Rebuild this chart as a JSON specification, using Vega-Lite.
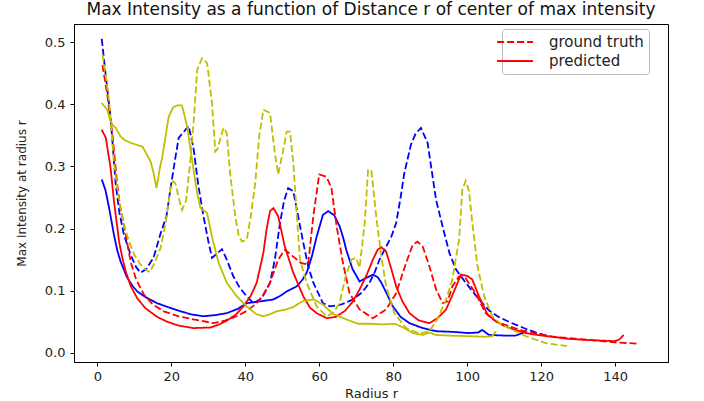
{
  "$schema": "https://vega.github.io/schema/vega-lite/v6.json",
  "width": 594,
  "height": 338,
  "autosize": {"type": "none"},
  "padding": {"left": 74, "top": 24, "right": 36, "bottom": 39},
  "title": {"text": "Max Intensity as a function of Distance r of center of max intensity", "font": "DejaVu Sans", "fontSize": 17, "fontWeight": "normal", "color": "#111", "anchor": "middle", "offset": 5},
  "config": {
    "view": {"stroke": "#000", "strokeWidth": 1},
    "axis": {"labelFont": "DejaVu Sans", "labelFontSize": 13, "labelColor": "#222", "titleFont": "DejaVu Sans", "titleFontWeight": "normal", "titleColor": "#222", "domainColor": "#000", "tickColor": "#000", "tickSize": 4, "grid": false},
    "legend": {"labelFont": "DejaVu Sans"}
  },
  "data": {"values": [
    {"r":1.2,"v":0.505,"c":"blue","k":"ground truth"},{"r":2.4,"v":0.44,"c":"blue","k":"ground truth"},{"r":3.6,"v":0.378,"c":"blue","k":"ground truth"},{"r":5,"v":0.27,"c":"blue","k":"ground truth"},{"r":6,"v":0.225,"c":"blue","k":"ground truth"},{"r":7.2,"v":0.19,"c":"blue","k":"ground truth"},{"r":9,"v":0.158,"c":"blue","k":"ground truth"},{"r":10.5,"v":0.138,"c":"blue","k":"ground truth"},{"r":11.7,"v":0.129,"c":"blue","k":"ground truth"},{"r":13.2,"v":0.135,"c":"blue","k":"ground truth"},{"r":15.2,"v":0.153,"c":"blue","k":"ground truth"},{"r":17,"v":0.19,"c":"blue","k":"ground truth"},{"r":18.7,"v":0.22,"c":"blue","k":"ground truth"},{"r":19.8,"v":0.265,"c":"blue","k":"ground truth"},{"r":21,"v":0.31,"c":"blue","k":"ground truth"},{"r":22,"v":0.346,"c":"blue","k":"ground truth"},{"r":24.7,"v":0.365,"c":"blue","k":"ground truth"},{"r":26,"v":0.33,"c":"blue","k":"ground truth"},{"r":27.3,"v":0.27,"c":"blue","k":"ground truth"},{"r":28.7,"v":0.22,"c":"blue","k":"ground truth"},{"r":30,"v":0.18,"c":"blue","k":"ground truth"},{"r":31,"v":0.153,"c":"blue","k":"ground truth"},{"r":32,"v":0.158,"c":"blue","k":"ground truth"},{"r":33.7,"v":0.167,"c":"blue","k":"ground truth"},{"r":35,"v":0.15,"c":"blue","k":"ground truth"},{"r":36.8,"v":0.123,"c":"blue","k":"ground truth"},{"r":38.5,"v":0.105,"c":"blue","k":"ground truth"},{"r":40.4,"v":0.091,"c":"blue","k":"ground truth"},{"r":42.2,"v":0.08,"c":"blue","k":"ground truth"},{"r":44.5,"v":0.088,"c":"blue","k":"ground truth"},{"r":46.7,"v":0.113,"c":"blue","k":"ground truth"},{"r":48,"v":0.15,"c":"blue","k":"ground truth"},{"r":49.4,"v":0.209,"c":"blue","k":"ground truth"},{"r":50.5,"v":0.245,"c":"blue","k":"ground truth"},{"r":51.6,"v":0.265,"c":"blue","k":"ground truth"},{"r":53,"v":0.26,"c":"blue","k":"ground truth"},{"r":54.3,"v":0.22,"c":"blue","k":"ground truth"},{"r":55.7,"v":0.177,"c":"blue","k":"ground truth"},{"r":57,"v":0.14,"c":"blue","k":"ground truth"},{"r":58.4,"v":0.113,"c":"blue","k":"ground truth"},{"r":61,"v":0.08,"c":"blue","k":"ground truth"},{"r":62.9,"v":0.075,"c":"blue","k":"ground truth"},{"r":66,"v":0.078,"c":"blue","k":"ground truth"},{"r":69.1,"v":0.086,"c":"blue","k":"ground truth"},{"r":71.5,"v":0.097,"c":"blue","k":"ground truth"},{"r":73.6,"v":0.113,"c":"blue","k":"ground truth"},{"r":75,"v":0.13,"c":"blue","k":"ground truth"},{"r":76.3,"v":0.15,"c":"blue","k":"ground truth"},{"r":78,"v":0.17,"c":"blue","k":"ground truth"},{"r":79.5,"v":0.187,"c":"blue","k":"ground truth"},{"r":80.8,"v":0.209,"c":"blue","k":"ground truth"},{"r":82,"v":0.25,"c":"blue","k":"ground truth"},{"r":83,"v":0.289,"c":"blue","k":"ground truth"},{"r":84.8,"v":0.335,"c":"blue","k":"ground truth"},{"r":86,"v":0.352,"c":"blue","k":"ground truth"},{"r":87.5,"v":0.362,"c":"blue","k":"ground truth"},{"r":89.3,"v":0.338,"c":"blue","k":"ground truth"},{"r":90.5,"v":0.29,"c":"blue","k":"ground truth"},{"r":91.6,"v":0.246,"c":"blue","k":"ground truth"},{"r":93.5,"v":0.2,"c":"blue","k":"ground truth"},{"r":95.2,"v":0.161,"c":"blue","k":"ground truth"},{"r":97,"v":0.134,"c":"blue","k":"ground truth"},{"r":99.6,"v":0.113,"c":"blue","k":"ground truth"},{"r":102,"v":0.095,"c":"blue","k":"ground truth"},{"r":104.1,"v":0.08,"c":"blue","k":"ground truth"},{"r":106,"v":0.068,"c":"blue","k":"ground truth"},{"r":108.5,"v":0.058,"c":"blue","k":"ground truth"},{"r":111.3,"v":0.05,"c":"blue","k":"ground truth"},{"r":115.8,"v":0.039,"c":"blue","k":"ground truth"},{"r":119,"v":0.032,"c":"blue","k":"ground truth"},{"r":122,"v":0.027,"c":"blue","k":"ground truth"},

    {"r":1.2,"v":0.279,"c":"blue","k":"predicted"},{"r":2.2,"v":0.262,"c":"blue","k":"predicted"},{"r":3.2,"v":0.233,"c":"blue","k":"predicted"},{"r":4.5,"v":0.19,"c":"blue","k":"predicted"},{"r":5.4,"v":0.165,"c":"blue","k":"predicted"},{"r":6.3,"v":0.147,"c":"blue","k":"predicted"},{"r":8,"v":0.122,"c":"blue","k":"predicted"},{"r":9.5,"v":0.108,"c":"blue","k":"predicted"},{"r":10.8,"v":0.099,"c":"blue","k":"predicted"},{"r":13,"v":0.09,"c":"blue","k":"predicted"},{"r":16.2,"v":0.08,"c":"blue","k":"predicted"},{"r":19,"v":0.074,"c":"blue","k":"predicted"},{"r":22.5,"v":0.067,"c":"blue","k":"predicted"},{"r":25.5,"v":0.062,"c":"blue","k":"predicted"},{"r":28.7,"v":0.059,"c":"blue","k":"predicted"},{"r":32,"v":0.061,"c":"blue","k":"predicted"},{"r":35,"v":0.064,"c":"blue","k":"predicted"},{"r":38,"v":0.071,"c":"blue","k":"predicted"},{"r":40.4,"v":0.08,"c":"blue","k":"predicted"},{"r":44,"v":0.083,"c":"blue","k":"predicted"},{"r":47.6,"v":0.086,"c":"blue","k":"predicted"},{"r":49.5,"v":0.092,"c":"blue","k":"predicted"},{"r":51.2,"v":0.099,"c":"blue","k":"predicted"},{"r":53.9,"v":0.107,"c":"blue","k":"predicted"},{"r":55.5,"v":0.118,"c":"blue","k":"predicted"},{"r":56.6,"v":0.129,"c":"blue","k":"predicted"},{"r":58,"v":0.155,"c":"blue","k":"predicted"},{"r":59.3,"v":0.187,"c":"blue","k":"predicted"},{"r":61,"v":0.222,"c":"blue","k":"predicted"},{"r":62.4,"v":0.228,"c":"blue","k":"predicted"},{"r":64,"v":0.222,"c":"blue","k":"predicted"},{"r":65.5,"v":0.204,"c":"blue","k":"predicted"},{"r":66.5,"v":0.185,"c":"blue","k":"predicted"},{"r":67.3,"v":0.166,"c":"blue","k":"predicted"},{"r":69,"v":0.135,"c":"blue","k":"predicted"},{"r":70.9,"v":0.115,"c":"blue","k":"predicted"},{"r":72.5,"v":0.12,"c":"blue","k":"predicted"},{"r":74.5,"v":0.126,"c":"blue","k":"predicted"},{"r":75.8,"v":0.122,"c":"blue","k":"predicted"},{"r":76.8,"v":0.113,"c":"blue","k":"predicted"},{"r":78.3,"v":0.095,"c":"blue","k":"predicted"},{"r":79.9,"v":0.075,"c":"blue","k":"predicted"},{"r":82,"v":0.058,"c":"blue","k":"predicted"},{"r":84.4,"v":0.048,"c":"blue","k":"predicted"},{"r":88,"v":0.04,"c":"blue","k":"predicted"},{"r":91.6,"v":0.035,"c":"blue","k":"predicted"},{"r":96,"v":0.034,"c":"blue","k":"predicted"},{"r":100.5,"v":0.032,"c":"blue","k":"predicted"},{"r":103,"v":0.033,"c":"blue","k":"predicted"},{"r":104.1,"v":0.037,"c":"blue","k":"predicted"},{"r":105.9,"v":0.029,"c":"blue","k":"predicted"},{"r":110,"v":0.028,"c":"blue","k":"predicted"},{"r":113.1,"v":0.028,"c":"blue","k":"predicted"},{"r":114.9,"v":0.032,"c":"blue","k":"predicted"},{"r":116,"v":0.036,"c":"blue","k":"predicted"},

    {"r":1.2,"v":0.359,"c":"red","k":"predicted"},{"r":2.3,"v":0.346,"c":"red","k":"predicted"},{"r":3.6,"v":0.297,"c":"red","k":"predicted"},{"r":4.5,"v":0.244,"c":"red","k":"predicted"},{"r":5.9,"v":0.179,"c":"red","k":"predicted"},{"r":6.8,"v":0.152,"c":"red","k":"predicted"},{"r":7.7,"v":0.131,"c":"red","k":"predicted"},{"r":9,"v":0.108,"c":"red","k":"predicted"},{"r":10.8,"v":0.088,"c":"red","k":"predicted"},{"r":13,"v":0.072,"c":"red","k":"predicted"},{"r":16.2,"v":0.058,"c":"red","k":"predicted"},{"r":19,"v":0.05,"c":"red","k":"predicted"},{"r":22,"v":0.044,"c":"red","k":"predicted"},{"r":26,"v":0.04,"c":"red","k":"predicted"},{"r":30.6,"v":0.041,"c":"red","k":"predicted"},{"r":33,"v":0.046,"c":"red","k":"predicted"},{"r":35,"v":0.052,"c":"red","k":"predicted"},{"r":37.5,"v":0.062,"c":"red","k":"predicted"},{"r":39.5,"v":0.075,"c":"red","k":"predicted"},{"r":41.5,"v":0.092,"c":"red","k":"predicted"},{"r":43.1,"v":0.113,"c":"red","k":"predicted"},{"r":44.9,"v":0.161,"c":"red","k":"predicted"},{"r":45.8,"v":0.2,"c":"red","k":"predicted"},{"r":46.7,"v":0.228,"c":"red","k":"predicted"},{"r":47.6,"v":0.233,"c":"red","k":"predicted"},{"r":48.9,"v":0.22,"c":"red","k":"predicted"},{"r":50.7,"v":0.171,"c":"red","k":"predicted"},{"r":53,"v":0.129,"c":"red","k":"predicted"},{"r":55.7,"v":0.091,"c":"red","k":"predicted"},{"r":57.5,"v":0.073,"c":"red","k":"predicted"},{"r":59.3,"v":0.064,"c":"red","k":"predicted"},{"r":62,"v":0.056,"c":"red","k":"predicted"},{"r":64.5,"v":0.058,"c":"red","k":"predicted"},{"r":67,"v":0.068,"c":"red","k":"predicted"},{"r":69,"v":0.082,"c":"red","k":"predicted"},{"r":70.9,"v":0.102,"c":"red","k":"predicted"},{"r":72.8,"v":0.125,"c":"red","k":"predicted"},{"r":74.5,"v":0.15,"c":"red","k":"predicted"},{"r":75.8,"v":0.166,"c":"red","k":"predicted"},{"r":76.8,"v":0.17,"c":"red","k":"predicted"},{"r":78.1,"v":0.163,"c":"red","k":"predicted"},{"r":79.5,"v":0.135,"c":"red","k":"predicted"},{"r":80.8,"v":0.107,"c":"red","k":"predicted"},{"r":82.5,"v":0.083,"c":"red","k":"predicted"},{"r":84.4,"v":0.064,"c":"red","k":"predicted"},{"r":87,"v":0.052,"c":"red","k":"predicted"},{"r":89.8,"v":0.048,"c":"red","k":"predicted"},{"r":92,"v":0.056,"c":"red","k":"predicted"},{"r":94.3,"v":0.07,"c":"red","k":"predicted"},{"r":95.8,"v":0.09,"c":"red","k":"predicted"},{"r":97,"v":0.107,"c":"red","k":"predicted"},{"r":98.3,"v":0.126,"c":"red","k":"predicted"},{"r":100,"v":0.124,"c":"red","k":"predicted"},{"r":101.4,"v":0.118,"c":"red","k":"predicted"},{"r":103.2,"v":0.091,"c":"red","k":"predicted"},{"r":105.5,"v":0.062,"c":"red","k":"predicted"},{"r":107.5,"v":0.052,"c":"red","k":"predicted"},{"r":109.5,"v":0.045,"c":"red","k":"predicted"},{"r":112.5,"v":0.038,"c":"red","k":"predicted"},{"r":115.8,"v":0.032,"c":"red","k":"predicted"},{"r":119,"v":0.029,"c":"red","k":"predicted"},{"r":123,"v":0.026,"c":"red","k":"predicted"},{"r":127,"v":0.023,"c":"red","k":"predicted"},{"r":131.9,"v":0.021,"c":"red","k":"predicted"},{"r":136,"v":0.02,"c":"red","k":"predicted"},{"r":140,"v":0.019,"c":"red","k":"predicted"},{"r":141.2,"v":0.022,"c":"red","k":"predicted"},{"r":142.3,"v":0.029,"c":"red","k":"predicted"},

    {"r":1.4,"v":0.463,"c":"red","k":"ground truth"},{"r":2.7,"v":0.415,"c":"red","k":"ground truth"},{"r":4.1,"v":0.351,"c":"red","k":"ground truth"},{"r":5.4,"v":0.27,"c":"red","k":"ground truth"},{"r":6.2,"v":0.235,"c":"red","k":"ground truth"},{"r":7.2,"v":0.206,"c":"red","k":"ground truth"},{"r":9,"v":0.147,"c":"red","k":"ground truth"},{"r":10.5,"v":0.118,"c":"red","k":"ground truth"},{"r":12.6,"v":0.094,"c":"red","k":"ground truth"},{"r":15,"v":0.078,"c":"red","k":"ground truth"},{"r":18,"v":0.067,"c":"red","k":"ground truth"},{"r":22,"v":0.059,"c":"red","k":"ground truth"},{"r":26,"v":0.054,"c":"red","k":"ground truth"},{"r":31.4,"v":0.048,"c":"red","k":"ground truth"},{"r":34.5,"v":0.052,"c":"red","k":"ground truth"},{"r":37.7,"v":0.059,"c":"red","k":"ground truth"},{"r":40.5,"v":0.068,"c":"red","k":"ground truth"},{"r":43.1,"v":0.08,"c":"red","k":"ground truth"},{"r":45,"v":0.095,"c":"red","k":"ground truth"},{"r":46.7,"v":0.113,"c":"red","k":"ground truth"},{"r":48.9,"v":0.15,"c":"red","k":"ground truth"},{"r":50.7,"v":0.166,"c":"red","k":"ground truth"},{"r":53,"v":0.155,"c":"red","k":"ground truth"},{"r":55,"v":0.145,"c":"red","k":"ground truth"},{"r":57,"v":0.142,"c":"red","k":"ground truth"},{"r":58.4,"v":0.22,"c":"red","k":"ground truth"},{"r":60,"v":0.287,"c":"red","k":"ground truth"},{"r":62,"v":0.283,"c":"red","k":"ground truth"},{"r":63.3,"v":0.265,"c":"red","k":"ground truth"},{"r":64.7,"v":0.204,"c":"red","k":"ground truth"},{"r":66.4,"v":0.145,"c":"red","k":"ground truth"},{"r":68.2,"v":0.096,"c":"red","k":"ground truth"},{"r":70.9,"v":0.07,"c":"red","k":"ground truth"},{"r":74.5,"v":0.056,"c":"red","k":"ground truth"},{"r":78.1,"v":0.07,"c":"red","k":"ground truth"},{"r":80.8,"v":0.096,"c":"red","k":"ground truth"},{"r":83.5,"v":0.145,"c":"red","k":"ground truth"},{"r":85.3,"v":0.174,"c":"red","k":"ground truth"},{"r":86.6,"v":0.179,"c":"red","k":"ground truth"},{"r":88,"v":0.171,"c":"red","k":"ground truth"},{"r":89.8,"v":0.139,"c":"red","k":"ground truth"},{"r":91.6,"v":0.102,"c":"red","k":"ground truth"},{"r":93.4,"v":0.08,"c":"red","k":"ground truth"},{"r":94.7,"v":0.083,"c":"red","k":"ground truth"},{"r":96,"v":0.107,"c":"red","k":"ground truth"},{"r":97.8,"v":0.123,"c":"red","k":"ground truth"},{"r":99.6,"v":0.12,"c":"red","k":"ground truth"},{"r":102.3,"v":0.096,"c":"red","k":"ground truth"},{"r":105,"v":0.064,"c":"red","k":"ground truth"},{"r":108,"v":0.05,"c":"red","k":"ground truth"},{"r":111.3,"v":0.043,"c":"red","k":"ground truth"},{"r":115,"v":0.036,"c":"red","k":"ground truth"},{"r":120.3,"v":0.029,"c":"red","k":"ground truth"},{"r":125,"v":0.025,"c":"red","k":"ground truth"},{"r":129.3,"v":0.023,"c":"red","k":"ground truth"},{"r":135,"v":0.02,"c":"red","k":"ground truth"},{"r":140,"v":0.017,"c":"red","k":"ground truth"},{"r":146.3,"v":0.015,"c":"red","k":"ground truth"},

    {"r":1.4,"v":0.48,"c":"yellow","k":"ground truth"},{"r":2.3,"v":0.445,"c":"yellow","k":"ground truth"},{"r":3.2,"v":0.405,"c":"yellow","k":"ground truth"},{"r":4.5,"v":0.308,"c":"yellow","k":"ground truth"},{"r":5.4,"v":0.265,"c":"yellow","k":"ground truth"},{"r":6.3,"v":0.233,"c":"yellow","k":"ground truth"},{"r":7.5,"v":0.2,"c":"yellow","k":"ground truth"},{"r":8.6,"v":0.179,"c":"yellow","k":"ground truth"},{"r":10,"v":0.158,"c":"yellow","k":"ground truth"},{"r":11.7,"v":0.142,"c":"yellow","k":"ground truth"},{"r":13,"v":0.134,"c":"yellow","k":"ground truth"},{"r":14.2,"v":0.13,"c":"yellow","k":"ground truth"},{"r":15.5,"v":0.145,"c":"yellow","k":"ground truth"},{"r":17.1,"v":0.169,"c":"yellow","k":"ground truth"},{"r":18.5,"v":0.21,"c":"yellow","k":"ground truth"},{"r":19.8,"v":0.265,"c":"yellow","k":"ground truth"},{"r":20.5,"v":0.276,"c":"yellow","k":"ground truth"},{"r":21.1,"v":0.273,"c":"yellow","k":"ground truth"},{"r":22,"v":0.25,"c":"yellow","k":"ground truth"},{"r":22.9,"v":0.23,"c":"yellow","k":"ground truth"},{"r":24,"v":0.245,"c":"yellow","k":"ground truth"},{"r":25,"v":0.3,"c":"yellow","k":"ground truth"},{"r":26.1,"v":0.375,"c":"yellow","k":"ground truth"},{"r":27,"v":0.455,"c":"yellow","k":"ground truth"},{"r":28.3,"v":0.474,"c":"yellow","k":"ground truth"},{"r":29.7,"v":0.466,"c":"yellow","k":"ground truth"},{"r":31,"v":0.402,"c":"yellow","k":"ground truth"},{"r":31.9,"v":0.324,"c":"yellow","k":"ground truth"},{"r":32.5,"v":0.328,"c":"yellow","k":"ground truth"},{"r":33.2,"v":0.343,"c":"yellow","k":"ground truth"},{"r":34.1,"v":0.362,"c":"yellow","k":"ground truth"},{"r":35,"v":0.354,"c":"yellow","k":"ground truth"},{"r":35.9,"v":0.289,"c":"yellow","k":"ground truth"},{"r":37.3,"v":0.22,"c":"yellow","k":"ground truth"},{"r":38.2,"v":0.19,"c":"yellow","k":"ground truth"},{"r":39.1,"v":0.179,"c":"yellow","k":"ground truth"},{"r":40.4,"v":0.182,"c":"yellow","k":"ground truth"},{"r":41.5,"v":0.22,"c":"yellow","k":"ground truth"},{"r":42.7,"v":0.273,"c":"yellow","k":"ground truth"},{"r":43.8,"v":0.35,"c":"yellow","k":"ground truth"},{"r":44.9,"v":0.391,"c":"yellow","k":"ground truth"},{"r":46.7,"v":0.386,"c":"yellow","k":"ground truth"},{"r":48,"v":0.322,"c":"yellow","k":"ground truth"},{"r":48.9,"v":0.287,"c":"yellow","k":"ground truth"},{"r":50.3,"v":0.327,"c":"yellow","k":"ground truth"},{"r":51.2,"v":0.356,"c":"yellow","k":"ground truth"},{"r":52.1,"v":0.356,"c":"yellow","k":"ground truth"},{"r":53,"v":0.305,"c":"yellow","k":"ground truth"},{"r":53.9,"v":0.225,"c":"yellow","k":"ground truth"},{"r":54.8,"v":0.15,"c":"yellow","k":"ground truth"},{"r":56.6,"v":0.113,"c":"yellow","k":"ground truth"},{"r":59.3,"v":0.075,"c":"yellow","k":"ground truth"},{"r":62,"v":0.059,"c":"yellow","k":"ground truth"},{"r":63.8,"v":0.065,"c":"yellow","k":"ground truth"},{"r":65.5,"v":0.08,"c":"yellow","k":"ground truth"},{"r":67,"v":0.12,"c":"yellow","k":"ground truth"},{"r":68.7,"v":0.15,"c":"yellow","k":"ground truth"},{"r":70,"v":0.153,"c":"yellow","k":"ground truth"},{"r":70.9,"v":0.137,"c":"yellow","k":"ground truth"},{"r":72.3,"v":0.209,"c":"yellow","k":"ground truth"},{"r":73.2,"v":0.294,"c":"yellow","k":"ground truth"},{"r":74.1,"v":0.294,"c":"yellow","k":"ground truth"},{"r":75.4,"v":0.22,"c":"yellow","k":"ground truth"},{"r":76.8,"v":0.155,"c":"yellow","k":"ground truth"},{"r":78.1,"v":0.107,"c":"yellow","k":"ground truth"},{"r":80.3,"v":0.064,"c":"yellow","k":"ground truth"},{"r":83.5,"v":0.04,"c":"yellow","k":"ground truth"},{"r":87.1,"v":0.031,"c":"yellow","k":"ground truth"},{"r":89.8,"v":0.035,"c":"yellow","k":"ground truth"},{"r":92,"v":0.055,"c":"yellow","k":"ground truth"},{"r":94.3,"v":0.086,"c":"yellow","k":"ground truth"},{"r":96,"v":0.118,"c":"yellow","k":"ground truth"},{"r":97.8,"v":0.182,"c":"yellow","k":"ground truth"},{"r":98.7,"v":0.263,"c":"yellow","k":"ground truth"},{"r":99.6,"v":0.277,"c":"yellow","k":"ground truth"},{"r":100.5,"v":0.26,"c":"yellow","k":"ground truth"},{"r":101.4,"v":0.209,"c":"yellow","k":"ground truth"},{"r":102.8,"v":0.139,"c":"yellow","k":"ground truth"},{"r":104.6,"v":0.091,"c":"yellow","k":"ground truth"},{"r":106.8,"v":0.059,"c":"yellow","k":"ground truth"},{"r":109,"v":0.047,"c":"yellow","k":"ground truth"},{"r":111.3,"v":0.04,"c":"yellow","k":"ground truth"},{"r":115.8,"v":0.027,"c":"yellow","k":"ground truth"},{"r":121.2,"v":0.016,"c":"yellow","k":"ground truth"},{"r":127,"v":0.011,"c":"yellow","k":"ground truth"},

    {"r":1.2,"v":0.402,"c":"yellow","k":"predicted"},{"r":2.7,"v":0.391,"c":"yellow","k":"predicted"},{"r":3.5,"v":0.375,"c":"yellow","k":"predicted"},{"r":4.1,"v":0.367,"c":"yellow","k":"predicted"},{"r":5,"v":0.362,"c":"yellow","k":"predicted"},{"r":6.3,"v":0.348,"c":"yellow","k":"predicted"},{"r":7.5,"v":0.342,"c":"yellow","k":"predicted"},{"r":9,"v":0.338,"c":"yellow","k":"predicted"},{"r":10.5,"v":0.335,"c":"yellow","k":"predicted"},{"r":12.2,"v":0.332,"c":"yellow","k":"predicted"},{"r":13.5,"v":0.318,"c":"yellow","k":"predicted"},{"r":14.4,"v":0.308,"c":"yellow","k":"predicted"},{"r":15.2,"v":0.29,"c":"yellow","k":"predicted"},{"r":16,"v":0.265,"c":"yellow","k":"predicted"},{"r":17,"v":0.3,"c":"yellow","k":"predicted"},{"r":17.5,"v":0.313,"c":"yellow","k":"predicted"},{"r":18.5,"v":0.35,"c":"yellow","k":"predicted"},{"r":19.3,"v":0.38,"c":"yellow","k":"predicted"},{"r":20.5,"v":0.395,"c":"yellow","k":"predicted"},{"r":21.6,"v":0.398,"c":"yellow","k":"predicted"},{"r":22.9,"v":0.398,"c":"yellow","k":"predicted"},{"r":24.3,"v":0.364,"c":"yellow","k":"predicted"},{"r":25.6,"v":0.311,"c":"yellow","k":"predicted"},{"r":27,"v":0.257,"c":"yellow","k":"predicted"},{"r":27.9,"v":0.233,"c":"yellow","k":"predicted"},{"r":29.7,"v":0.225,"c":"yellow","k":"predicted"},{"r":31,"v":0.187,"c":"yellow","k":"predicted"},{"r":32.8,"v":0.145,"c":"yellow","k":"predicted"},{"r":35,"v":0.113,"c":"yellow","k":"predicted"},{"r":37.7,"v":0.091,"c":"yellow","k":"predicted"},{"r":40.4,"v":0.075,"c":"yellow","k":"predicted"},{"r":43.1,"v":0.062,"c":"yellow","k":"predicted"},{"r":44.9,"v":0.059,"c":"yellow","k":"predicted"},{"r":46.5,"v":0.062,"c":"yellow","k":"predicted"},{"r":48.5,"v":0.067,"c":"yellow","k":"predicted"},{"r":51,"v":0.07,"c":"yellow","k":"predicted"},{"r":53,"v":0.074,"c":"yellow","k":"predicted"},{"r":55.7,"v":0.084,"c":"yellow","k":"predicted"},{"r":58.5,"v":0.086,"c":"yellow","k":"predicted"},{"r":61,"v":0.078,"c":"yellow","k":"predicted"},{"r":63.7,"v":0.063,"c":"yellow","k":"predicted"},{"r":67.3,"v":0.054,"c":"yellow","k":"predicted"},{"r":70.5,"v":0.047,"c":"yellow","k":"predicted"},{"r":73.6,"v":0.047,"c":"yellow","k":"predicted"},{"r":77,"v":0.046,"c":"yellow","k":"predicted"},{"r":80.5,"v":0.047,"c":"yellow","k":"predicted"},{"r":83,"v":0.04,"c":"yellow","k":"predicted"},{"r":85.3,"v":0.032,"c":"yellow","k":"predicted"},{"r":88,"v":0.029,"c":"yellow","k":"predicted"},{"r":89.8,"v":0.033,"c":"yellow","k":"predicted"},{"r":91.5,"v":0.029,"c":"yellow","k":"predicted"},{"r":95,"v":0.028,"c":"yellow","k":"predicted"},{"r":100.5,"v":0.027,"c":"yellow","k":"predicted"},{"r":105,"v":0.026,"c":"yellow","k":"predicted"},{"r":106.8,"v":0.027,"c":"yellow","k":"predicted"},{"r":107.8,"v":0.035,"c":"yellow","k":"predicted"}
  ]},
  "mark": {"type": "line", "strokeWidth": 1.8, "clip": true},
  "encoding": {
    "x": {"field": "r", "type": "quantitative", "scale": {"domain": [-6.3, 154.3], "nice": false, "zero": false},
      "axis": {"values": [0, 20, 40, 60, 80, 100, 120, 140], "title": "Radius r", "titleFontSize": 13, "labelPadding": 4, "titlePadding": 4}},
    "y": {"field": "v", "type": "quantitative", "scale": {"domain": [-0.0145, 0.529], "nice": false, "zero": false},
      "axis": {"values": [0, 0.1, 0.2, 0.3, 0.4, 0.5], "format": ".1f", "title": "Max Intensity at radius r", "titleFontSize": 12, "labelPadding": 5, "titlePadding": 16}},
    "color": {"field": "c", "type": "nominal", "scale": {"domain": ["red", "blue", "yellow"], "range": ["#ff0000", "#0000ff", "#bfbf00"]}, "legend": null},
    "strokeDash": {"field": "k", "type": "nominal", "scale": {"domain": ["ground truth", "predicted"], "range": [[7, 3], [1, 0]]},
      "legend": {"title": null, "orient": "none", "legendX": 428, "legendY": 5, "symbolType": "M-2.6,0H2.6", "symbolSize": 190, "symbolStrokeColor": "#ff0000", "symbolStrokeWidth": 2, "labelFontSize": 15, "labelColor": "#222", "labelOffset": 26, "padding": 5, "rowPadding": 3, "strokeColor": "#bbbbbb", "fillColor": "#ffffff", "cornerRadius": 3}}
  }
}
